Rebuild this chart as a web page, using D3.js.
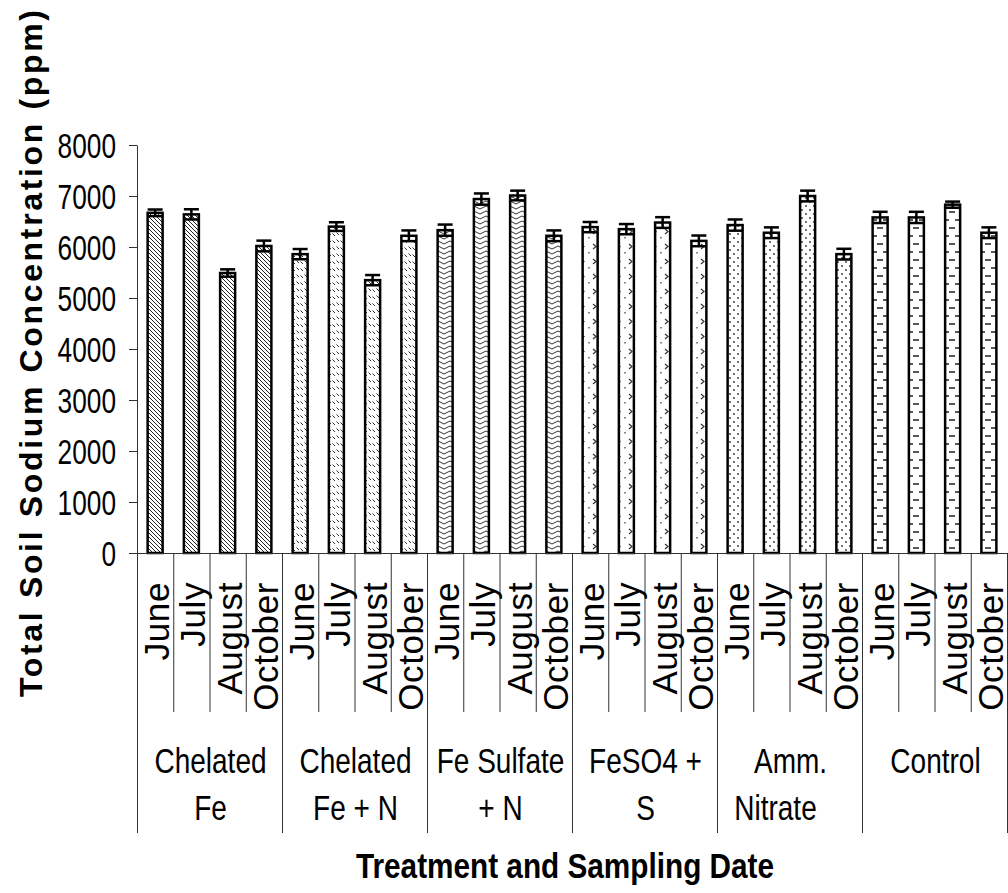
<!DOCTYPE html>
<html>
<head>
<meta charset="utf-8">
<script src="https://cdn.jsdelivr.net/npm/d3@7"></script>
<style>
  body { margin: 0; background: #fff; }
  svg { display: block; }
  text { font-family: "Liberation Sans", Arial, sans-serif; fill: #000; }
</style>
</head>
<body>
<div id="chart"></div>
<script>
// treatment groups and their two-line labels
const groupLines = [
  ["Chelated", "Fe"],
  ["Chelated", "Fe + N"],
  ["Fe Sulfate", "+ N"],
  ["FeSO4 +", "S"],
  ["Amm.", "Nitrate"],
  ["Control"]
];
const months = ["June", "July", "August", "October"];

// total soil sodium (ppm), 4 sampling dates per treatment
const sodium = [
  6670, 6640, 5490, 6020,
  5860, 6400, 5350, 6220,
  6330, 6940, 7010, 6220,
  6390, 6350, 6480, 6120,
  6430, 6280, 7000, 5860,
  6580, 6580, 6830, 6280
];
const sodiumErr = [
  65, 100, 72, 105,
  100, 85, 100, 105,
  110, 110, 95, 105,
  100, 100, 105, 105,
  110, 105, 105, 105,
  110, 110, 60, 105
];
const yTicks = [0, 1000, 2000, 3000, 4000, 5000, 6000, 7000, 8000];

const W = 1008, H = 893;
const svg = d3.select("#chart").append("svg")
  .attr("width", W)
  .attr("height", H);

const x = d3.scaleBand()
  .domain(d3.range(sodium.length))
  .range([137, 1007]);
const y = d3.scaleLinear()
  .domain([0, 8000])
  .range([553, 145]);
const barW = 15;
const bw = x.bandwidth();

// fill patterns, one per treatment
const defs = svg.append("defs");
function pat(id, w, h, draw) {
  const p = defs.append("pattern")
    .attr("id", id)
    .attr("patternUnits", "userSpaceOnUse")
    .attr("width", w)
    .attr("height", h);
  p.append("rect").attr("width", w).attr("height", h).attr("fill", "#fff");
  draw(p);
}
pat("p0", 4, 4, p => p.append("path")
  .attr("d", "M-1,-1L5,5M-1,3L1,5M3,-1L5,1")
  .attr("stroke", "#222").attr("stroke-width", 1));
pat("p1", 8, 7, p => p.append("path")
  .attr("d", "M0.5,1.5L3,4M4.5,2.5L7,5")
  .attr("stroke", "#333").attr("stroke-width", 1));
pat("p2", 12, 5, p => p.append("path")
  .attr("d", "M0,4L6,1L12,4")
  .attr("fill", "none").attr("stroke", "#333").attr("stroke-width", 1));
pat("p3", 12, 15, p => p.append("path")
  .attr("d", "M5,4L8,6.5L5,9M1,12L1,13.5")
  .attr("fill", "none").attr("stroke", "#333").attr("stroke-width", 1.2));
pat("p4", 8, 8, p => {
  p.append("circle").attr("cx", 2).attr("cy", 2).attr("r", 0.9).attr("fill", "#333");
  p.append("circle").attr("cx", 6).attr("cy", 6).attr("r", 0.9).attr("fill", "#333");
});
pat("p5", 12, 16, p => p.append("path")
  .attr("d", "M1,4H7M7,12H12M0,12H1")
  .attr("stroke", "#222").attr("stroke-width", 1.6));

// bars
svg.append("g")
  .selectAll("rect")
  .data(sodium)
  .join("rect")
  .attr("x", (d, i) => x(i) + (bw - barW) / 2)
  .attr("y", d => y(d))
  .attr("width", barW)
  .attr("height", d => y(0) - y(d))
  .attr("fill", (d, i) => `url(#p${Math.floor(i / 4)})`)
  .attr("stroke", "#000")
  .attr("stroke-width", 2.5);

// error bars
const eb = svg.append("g")
  .attr("stroke", "#000")
  .attr("stroke-width", 2.5)
  .selectAll("g")
  .data(sodium)
  .join("g");
eb.append("line")
  .attr("x1", (d, i) => x(i) + bw / 2)
  .attr("x2", (d, i) => x(i) + bw / 2)
  .attr("y1", (d, i) => y(d + sodiumErr[i]))
  .attr("y2", (d, i) => y(d - sodiumErr[i]));
eb.append("line")
  .attr("x1", (d, i) => x(i) + (bw - barW) / 2)
  .attr("x2", (d, i) => x(i) + (bw + barW) / 2)
  .attr("y1", (d, i) => y(d + sodiumErr[i]))
  .attr("y2", (d, i) => y(d + sodiumErr[i]));
eb.append("line")
  .attr("x1", (d, i) => x(i) + (bw - barW) / 2)
  .attr("x2", (d, i) => x(i) + (bw + barW) / 2)
  .attr("y1", (d, i) => y(d - sodiumErr[i]))
  .attr("y2", (d, i) => y(d - sodiumErr[i]));

// y axis
svg.append("g")
  .attr("transform", "translate(137,0)")
  .call(d3.axisLeft(y).tickValues(yTicks).tickSize(8).tickSizeOuter(0).tickFormat(""))
  .call(g => g.selectAll("path,line").attr("stroke", "#333"));

svg.append("g")
  .selectAll("text")
  .data(yTicks)
  .join("text")
  .attr("transform", d => `translate(116,${y(d) + 12.5}) scale(0.75,1)`)
  .attr("text-anchor", "end")
  .style("font-size", "35px")
  .text(d => d);

// x baseline and category dividers
svg.append("line")
  .attr("x1", 137).attr("x2", 1007)
  .attr("y1", 553.5).attr("y2", 553.5)
  .attr("stroke", "#333");

const edges = d3.range(sodium.length + 1);
svg.append("g")
  .selectAll("line")
  .data(edges)
  .join("line")
  .attr("x1", i => (i < sodium.length ? x(i) : x.range()[1]) + 0.5)
  .attr("x2", i => (i < sodium.length ? x(i) : x.range()[1]) + 0.5)
  .attr("y1", 553)
  .attr("y2", i => i % 4 === 0 ? 833 : 712)
  .attr("stroke", "#333");

// month labels
svg.append("g")
  .selectAll("text")
  .data(sodium)
  .join("text")
  .attr("transform", (d, i) => `translate(${x(i) + bw / 2 + 14},582) rotate(-90)`)
  .attr("text-anchor", "end")
  .style("font-size", "35px")
  .style("letter-spacing", "0.6px")
  .text((d, i) => months[i % 4]);

// treatment labels
const lineShift = { "Nitrate": -15 };
groupLines.forEach((lines, gi) => {
  const cx = (x(gi * 4) + x(gi * 4 + 3) + bw) / 2;
  lines.forEach((t, li) => {
    svg.append("text")
      .attr("transform", `translate(${cx + 1 + (lineShift[t] || 0)},${773 + li * 47}) scale(0.8,1)`)
      .attr("text-anchor", "middle")
      .style("font-size", "35px")
      .text(t);
  });
});

// axis titles
svg.append("text")
  .attr("transform", "translate(565,878) scale(0.85,1)")
  .attr("text-anchor", "middle")
  .style("font-size", "35px")
  .style("font-weight", "bold")
  .text("Treatment and Sampling Date");

svg.append("text")
  .attr("transform", "translate(42,353.5) rotate(-90)")
  .attr("text-anchor", "middle")
  .attr("textLength", 687)
  .attr("lengthAdjust", "spacing")
  .style("font-size", "32px")
  .style("font-weight", "bold")
  .text("Total Soil Sodium Concentration (ppm)");
</script>
</body>
</html>
